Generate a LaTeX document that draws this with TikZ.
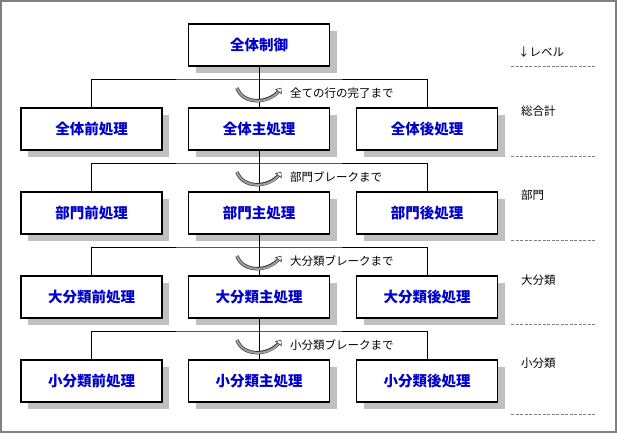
\documentclass[tikz,border=0pt]{standalone}
\usepackage{fontspec}
\setmainfont{Noto Sans CJK JP}
\usetikzlibrary{shadows, arrows.meta, positioning}
\definecolor{boxblue}{RGB}{0, 0, 204}
\definecolor{shadowgray}{RGB}{192, 192, 192}
\definecolor{framegray}{RGB}{128, 128, 128}
\definecolor{tubegray}{RGB}{160, 160, 160}

\begin{document}
\begin{tikzpicture}[x=1pt, y=-1pt,
  procbox/.style={draw=black, line width=1.2pt, fill=white, minimum width=141pt, minimum height=42pt, inner sep=0pt, font=\fontsize{14.5}{16}\selectfont\bfseries, text=boxblue, drop shadow={shadow xshift=7pt, shadow yshift=-7pt, fill=shadowgray, opacity=1}},
  link/.style={draw=black, line width=0.9pt},
  turnarrow/.style={draw=tubegray, line width=2pt, shorten >=1pt, -{Triangle[length=5pt, width=8pt, fill=white, color=black!80, line width=0.6pt]}, preaction={draw=black!80, line width=3.4pt, shorten >=4pt, -}},
  notelabel/.style={anchor=west, inner sep=0pt, font=\fontsize{11.5}{13}\selectfont},
  levellabel/.style={anchor=west, inner sep=0pt, font=\fontsize{11.5}{13}\selectfont},
  levelsep/.style={draw=framegray, line width=0.7pt, dash pattern=on 3pt off 1.5pt}]
  \useasboundingbox (0,0) rectangle (617,433);
  \draw[framegray, line width=2pt] (1,1) rectangle (616,432);

  % Control box
  \node[procbox] (ctl) at (259, 45) {全体制御};

  % Total level
  \node[procbox] (preA)  at (91.5, 129) {全体前処理};
  \node[procbox] (mainA) at (259, 129)  {全体主処理};
  \node[procbox] (postA) at (427, 129)  {全体後処理};

  % Department level
  \node[procbox] (preB)  at (91.5, 213) {部門前処理};
  \node[procbox] (mainB) at (259, 213)  {部門主処理};
  \node[procbox] (postB) at (427, 213)  {部門後処理};

  % Major class level
  \node[procbox] (preC)  at (91.5, 297) {大分類前処理};
  \node[procbox] (mainC) at (259, 297)  {大分類主処理};
  \node[procbox] (postC) at (427, 297)  {大分類後処理};

  % Minor class level
  \node[procbox] (preD)  at (91.5, 381) {小分類前処理};
  \node[procbox] (mainD) at (259, 381)  {小分類主処理};
  \node[procbox] (postD) at (427, 381)  {小分類後処理};

  % Branch points
  \coordinate (hA) at (259, 79);
  \coordinate (hB) at (259, 163);
  \coordinate (hC) at (259, 247);
  \coordinate (hD) at (259, 331);

  % Connectors
  \draw[link] (ctl.south) -- (mainA.north);
  \draw[link] (preA.north) |- (hA) -| (postA.north);
  \draw[link] (mainA.south) -- (mainB.north);
  \draw[link] (preB.north) |- (hB) -| (postB.north);
  \draw[link] (mainB.south) -- (mainC.north);
  \draw[link] (preC.north) |- (hC) -| (postC.north);
  \draw[link] (mainC.south) -- (mainD.north);
  \draw[link] (preD.north) |- (hD) -| (postD.north);

  % Loop arrows
  \draw[turnarrow, shift={(hA)}] (-22,9) .. controls (-16,26) and (10,25) .. (23,8);
  \draw[turnarrow, shift={(hB)}] (-22,9) .. controls (-16,26) and (10,25) .. (23,8);
  \draw[turnarrow, shift={(hC)}] (-22,9) .. controls (-16,26) and (10,25) .. (23,8);
  \draw[turnarrow, shift={(hD)}] (-22,9) .. controls (-16,26) and (10,25) .. (23,8);
  \node[notelabel] (noteA) at (290, 93)  {全ての行の完了まで};
  \node[notelabel] (noteB) at (290, 177) {部門ブレークまで};
  \node[notelabel] (noteC) at (290, 261) {大分類ブレークまで};
  \node[notelabel] (noteD) at (290, 345) {小分類ブレークまで};

  % Level column
  \node[levellabel] (lvl)    at (518, 52)  {↓レベル};
  \node[levellabel] (lvlA)   at (521, 111) {総合計};
  \node[levellabel] (lvlB)   at (521, 195) {部門};
  \node[levellabel] (lvlC)   at (521, 280) {大分類};
  \node[levellabel] (lvlD)   at (521, 363) {小分類};
  \draw[levelsep] (511, 66)  -- (596, 66);
  \draw[levelsep] (511, 156) -- (596, 156);
  \draw[levelsep] (511, 240) -- (596, 240);
  \draw[levelsep] (511, 324) -- (596, 324);
  \draw[levelsep] (511, 414) -- (596, 414);
\end{tikzpicture}
\end{document}
